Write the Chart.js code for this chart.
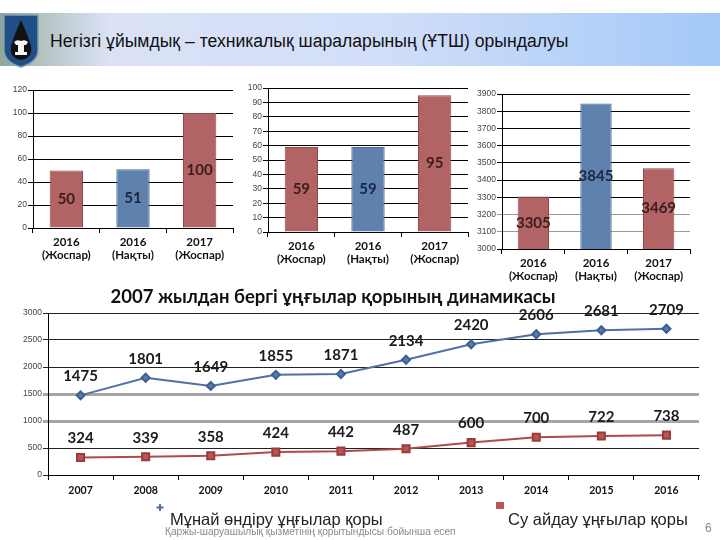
<!DOCTYPE html>
<html>
<head>
<meta charset="utf-8">
<script src="https://cdn.jsdelivr.net/npm/chart.js@4.4.1/dist/chart.umd.min.js"></script>
<style>
body { margin: 0; width: 720px; height: 540px; background: #fff; position: relative; overflow: hidden; font-family: "Liberation Sans", Arial, sans-serif; }
.band { position: absolute; left: 0; top: 13px; width: 720px; height: 53px;
  background: linear-gradient(to right, #90a59a 0px, #b7c4c4 45px, #dbe2f6 110px, #d2def9 380px, #a3c9f8 720px); }
.logo { position: absolute; left: 2px; top: 12px; }
.head { position: absolute; left: 50px; top: 31px; font-size: 17.6px; color: #111; white-space: nowrap; }
canvas { position: absolute; }
.foot { position: absolute; left: 165px; top: 525px; font-size: 11px; color: #8a8a8a; white-space: nowrap; transform: scaleX(0.925); transform-origin: left top; }
.page { position: absolute; left: 705px; top: 521px; font-size: 12px; color: #8a8a8a; }
</style>
</head>
<body>
<div class="band"></div>
<svg class="logo" width="38" height="56" viewBox="0 0 38 56">
  <path d="M2 3 H36 V38 Q36 50 19 55 Q2 50 2 38 Z" fill="#1f4f86" stroke="#7fa0b0" stroke-width="1.5"/>
  <path d="M19 8 Q26 24 29 34 Q31 46 19 48 Q7 46 9 34 Q12 24 19 8 Z" fill="#111"/>
  <path d="M12 30 Q15 27 19 29 Q23 27 26 30 L24 33 H22 V40 H25 V43 H13 V40 H16 V33 H14 Z" fill="#f4f4f4"/>
</svg>
<div class="head">Негізгі ұйымдық – техникалық шараларының (ҰТШ) орындалуы</div>

<canvas id="bar1" width="240" height="190" style="left:0;top:80px"></canvas>
<canvas id="bar2" width="240" height="190" style="left:235px;top:80px"></canvas>
<canvas id="bar3" width="250" height="205" style="left:470px;top:80px"></canvas>
<canvas id="lines" width="720" height="260" style="left:0;top:280px"></canvas>

<div class="foot">Қаржы-шаруашылық қызметінің қорытындысы бойынша есеп</div>
<div class="page">6</div>

<script>
const barCats = [['2016', '(Жоспар)'], ['2016', '(Нақты)'], ['2017', '(Жоспар)']];
const bar1Values = [50, 51, 100];
const bar2Values = [59, 59, 95];
const bar3Values = [3305, 3845, 3469];

const years = ['2007', '2008', '2009', '2010', '2011', '2012', '2013', '2014', '2015', '2016'];
const oilWells = [1475, 1801, 1649, 1855, 1871, 2134, 2420, 2606, 2681, 2709];
const waterWells = [324, 339, 358, 424, 442, 487, 600, 700, 722, 738];
const seriesNames = ['Мұнай өндіру ұңғылар қоры', 'Су айдау ұңғылар қоры'];

const RED = '#b26464', RED_EDGE = '#8e4a4a';
const BLUE = '#5f81ae', BLUE_EDGE = '#4a6890';
const barFill = [RED, BLUE, RED];
const barEdge = [RED_EDGE, BLUE_EDGE, RED_EDGE];
const barText = ['#3a1c1c', '#1c2642', '#3a1c1c'];

const plainTick = v => String(v);

// value labels in the middle of each bar (visible part only)
const barLabels = {
    id: 'barLabels',
    afterDatasetsDraw(chart) {
        const ctx = chart.ctx;
        const meta = chart.getDatasetMeta(0);
        const bottom = chart.chartArea.bottom;
        ctx.save();
        ctx.font = 'bold 15px Lato';
        ctx.textAlign = 'center';
        ctx.textBaseline = 'middle';
        meta.data.forEach((bar, i) => {
            ctx.fillStyle = barText[i];
            ctx.fillText(chart.data.datasets[0].data[i], bar.x, (bar.y + Math.min(bar.base, bottom)) / 2);
        });
        ctx.restore();
    }
};

function makeBarChart(id, values, min, max, step, yWidth, xHeight, pad, greyLines) {
    new Chart(document.getElementById(id), {
        type: 'bar',
        data: {
            labels: barCats,
            datasets: [{
                data: values,
                backgroundColor: barFill,
                borderColor: barEdge,
                borderWidth: 1,
                barPercentage: 0.5,
                categoryPercentage: 1
            }]
        },
        options: {
            responsive: false,
            animation: false,
            events: [],
            layout: { padding: pad },
            plugins: { legend: { display: false }, tooltip: { enabled: false } },
            scales: {
                x: {
                    grid: { offset: true, drawOnChartArea: false, color: '#000', tickLength: 5 },
                    border: { color: '#000' },
                    ticks: { color: '#111', font: { family: 'Lato', weight: 'bold', size: 11.5 }, padding: 2 },
                    afterFit(s) { s.height = xHeight; }
                },
                y: {
                    min: min, max: max,
                    grid: {
                        color: ctx => (greyLines && greyLines.includes(ctx.tick.value)) ? '#9a9a9a' : '#000',
                        tickLength: 5
                    },
                    border: { color: '#000' },
                    ticks: { stepSize: step, callback: plainTick, color: '#444', font: { family: 'Liberation Sans', size: 8.5 }, padding: 1 },
                    afterFit(s) { s.width = yWidth; }
                }
            }
        },
        plugins: [barLabels]
    });
}

makeBarChart('bar1', bar1Values, 0, 120, 20, 33, 42, { left: 0, right: 7, top: 10, bottom: 0 });
makeBarChart('bar2', bar2Values, 0, 100, 10, 33, 38, { left: 0, right: 7, top: 8, bottom: 0 });
makeBarChart('bar3', bar3Values, 3000, 3900, 100, 32, 36, { left: 0, right: 30, top: 14, bottom: 0 }, [3100, 3200]);

// line chart: labels above points, title and legend drawn by hand
const lineExtras = {
    id: 'lineExtras',
    afterDatasetsDraw(chart) {
        const ctx = chart.ctx;
        ctx.save();
        ctx.font = 'bold 15px Lato';
        ctx.fillStyle = '#1a1a1a';
        ctx.textAlign = 'center';
        ctx.textBaseline = 'middle';
        chart.data.datasets.forEach((ds, d) => {
            chart.getDatasetMeta(d).data.forEach((pt, i) => {
                ctx.fillText(ds.data[i], pt.x, pt.y - 19);
            });
        });

        ctx.font = 'bold 18.5px Lato';
        ctx.fillStyle = '#111';
        ctx.fillText('2007 жылдан бергі ұңғылар қорының динамикасы', 333, 17);

        // legend
        ctx.font = '16.5px "Liberation Sans"';
        ctx.textAlign = 'left';
        ctx.fillStyle = '#222';
        ctx.fillText(seriesNames[0], 170, 240);
        ctx.fillText(seriesNames[1], 508, 240);
        ctx.fillStyle = '#4f6f9f';
        ctx.fillRect(159, 224, 2, 7);
        ctx.fillRect(156.5, 226.5, 7, 2);
        ctx.fillStyle = '#b85656';
        ctx.fillRect(496, 222, 8, 7);
        ctx.restore();
    }
};

new Chart(document.getElementById('lines'), {
    type: 'line',
    data: {
        labels: years,
        datasets: [
            {
                label: seriesNames[0],
                data: oilWells,
                borderColor: '#4f71a3',
                backgroundColor: '#4f71a3',
                borderWidth: 2,
                pointStyle: 'rectRot',
                pointRadius: 4,
                pointBorderColor: '#3f5f8f',
                pointBackgroundColor: '#5a7db0'
            },
            {
                label: seriesNames[1],
                data: waterWells,
                borderColor: '#b04a4a',
                backgroundColor: '#b85050',
                borderWidth: 2,
                pointStyle: 'rect',
                pointRadius: 5,
                pointBorderColor: '#9a3c3c',
                pointBackgroundColor: '#bb5454'
            }
        ]
    },
    options: {
        responsive: false,
        animation: false,
        events: [],
        layout: { padding: { left: 0, right: 21, top: 33, bottom: 43 } },
        plugins: { legend: { display: false }, tooltip: { enabled: false } },
        scales: {
            x: {
                offset: true,
                grid: { offset: true, drawOnChartArea: false, color: '#000', tickLength: 5 },
                border: { color: '#000' },
                ticks: { color: '#111', font: { family: 'Lato', weight: 'bold', size: 10.5 }, padding: 4 },
                afterFit(s) { s.height = 22; }
            },
            y: {
                min: 0, max: 3000,
                grid: {
                    color: ctx => (ctx.tick.value === 1000 || ctx.tick.value === 1500) ? '#a6a6a6' : '#222',
                    lineWidth: ctx => (ctx.tick.value === 1000 || ctx.tick.value === 1500) ? 3 : 1,
                    tickLength: 5
                },
                border: { color: '#000' },
                ticks: { stepSize: 500, callback: plainTick, color: '#444', font: { family: 'Liberation Sans', size: 8.5 }, padding: 1 },
                afterFit(s) { s.width = 48; }
            }
        }
    },
    plugins: [lineExtras]
});
</script>
</body>
</html>
